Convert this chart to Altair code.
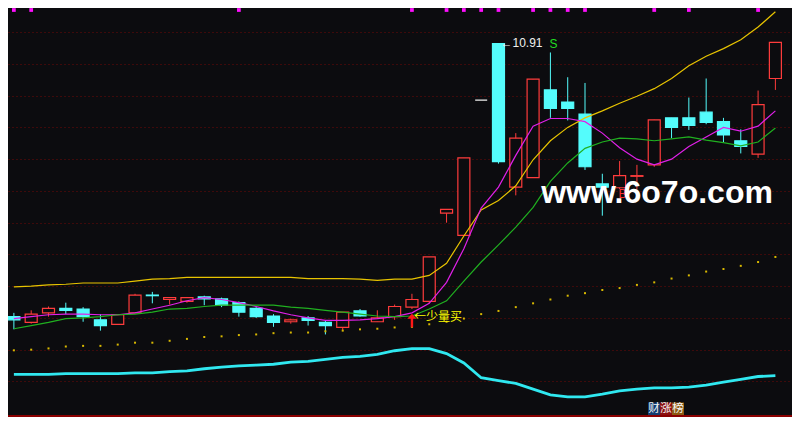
import altair as alt
import pandas as pd

BG = "#0c0c0f"
RED = "#ff3c3c"
CYAN = "#54fcfc"
WHITE = "#f0f0f0"

# daily candles (yuan)
opens = [6.61, 6.52, 6.67, 6.74, 6.73, 6.56, 6.49, 6.67, 6.95, 6.88,
         6.85, 6.92, 6.89, 6.83, 6.74, 6.62, 6.53, 6.59, 6.52, 6.44,
         6.70, 6.53, 6.61, 6.76, 6.85, 8.24, 7.89, 10.02, 10.91, 8.65,
         8.80, 10.18, 9.99, 9.80, 8.70, 8.64, 8.82, 9.00, 9.74, 9.74,
         9.83, 9.68, 9.38, 9.17, 10.36]
highs = [6.67, 6.71, 6.77, 6.83, 6.76, 6.65, 6.64, 6.97, 7.00, 6.91,
         6.92, 6.94, 6.91, 6.85, 6.76, 6.65, 6.58, 6.62, 6.55, 6.68,
         6.73, 6.71, 6.80, 6.97, 7.55, 8.30, 9.11, 10.02, 10.91, 9.50,
         10.35, 10.77, 10.38, 10.29, 8.86, 9.06, 9.00, 9.71, 9.74, 10.06,
         10.36, 9.74, 9.56, 10.17, 10.93]
lows = [6.41, 6.50, 6.61, 6.65, 6.53, 6.39, 6.49, 6.67, 6.82, 6.80,
        6.83, 6.79, 6.76, 6.61, 6.59, 6.45, 6.50, 6.47, 6.33, 6.39,
        6.61, 6.53, 6.56, 6.73, 6.82, 8.09, 7.89, 10.02, 9.02, 8.52,
        8.80, 9.74, 9.70, 8.92, 8.20, 8.62, 8.62, 8.97, 9.42, 9.55,
        9.64, 9.36, 9.18, 9.11, 10.18]
closes = [6.56, 6.65, 6.74, 6.71, 6.61, 6.47, 6.64, 6.95, 6.94, 6.91,
          6.91, 6.89, 6.79, 6.68, 6.61, 6.52, 6.56, 6.55, 6.47, 6.68,
          6.62, 6.59, 6.77, 6.88, 7.55, 8.30, 9.11, 10.02, 9.05, 9.42,
          10.35, 9.89, 9.89, 8.97, 8.65, 8.83, 8.83, 9.71, 9.59, 9.62,
          9.67, 9.47, 9.29, 9.95, 10.93]

# overlay lines
ma_fast = [6.58, 6.61, 6.64, 6.65, 6.65, 6.64, 6.64, 6.67, 6.73, 6.79,
           6.86, 6.91, 6.88, 6.83, 6.77, 6.70, 6.64, 6.59, 6.55, 6.55,
           6.56, 6.58, 6.61, 6.67, 6.82, 7.15, 7.68, 8.32, 8.65, 9.15,
           9.61, 9.73, 9.73, 9.68, 9.50, 9.27, 9.09, 9.00, 9.09, 9.29,
           9.44, 9.59, 9.53, 9.61, 9.85]
ma_slow = [6.42, 6.47, 6.52, 6.58, 6.59, 6.61, 6.64, 6.65, 6.68, 6.73,
           6.74, 6.77, 6.79, 6.79, 6.79, 6.79, 6.76, 6.74, 6.71, 6.68,
           6.65, 6.62, 6.61, 6.62, 6.73, 6.86, 7.17, 7.47, 7.74, 8.02,
           8.33, 8.74, 9.03, 9.26, 9.36, 9.42, 9.41, 9.38, 9.41, 9.44,
           9.39, 9.35, 9.30, 9.36, 9.58]
band_upper = [7.08, 7.09, 7.11, 7.12, 7.14, 7.14, 7.14, 7.17, 7.20, 7.21,
              7.23, 7.23, 7.23, 7.23, 7.23, 7.23, 7.23, 7.21, 7.21, 7.21,
              7.20, 7.18, 7.20, 7.20, 7.26, 7.45, 7.88, 8.29, 8.44, 8.67,
              9.08, 9.38, 9.59, 9.74, 9.85, 9.97, 10.08, 10.20, 10.36, 10.56,
              10.71, 10.83, 10.97, 11.17, 11.41]
band_dots = [6.08, 6.09, 6.11, 6.14, 6.15, 6.15, 6.17, 6.20, 6.20, 6.23,
             6.26, 6.29, 6.30, 6.32, 6.33, 6.35, 6.36, 6.36, 6.38, 6.39,
             6.41, 6.42, 6.44, 6.45, 6.49, 6.53, 6.58, 6.65, 6.70, 6.76,
             6.82, 6.88, 6.94, 6.98, 7.03, 7.06, 7.11, 7.15, 7.21, 7.26,
             7.32, 7.36, 7.41, 7.47, 7.55]
# lower indicator (own scale 0-100)
osc = [10.4, 10.4, 10.4, 10.6, 10.6, 10.6, 10.6, 10.8, 10.8, 11.1,
       11.3, 11.8, 12.2, 12.5, 12.7, 12.9, 13.4, 13.6, 14.1, 14.6,
       14.8, 15.3, 16.2, 16.7, 16.7, 15.5, 13.2, 9.6, 8.9, 8.2,
       6.8, 5.4, 4.9, 4.9, 5.6, 6.4, 6.8, 7.1, 7.1, 7.3,
       7.8, 8.5, 9.2, 9.9, 10.1]
top_flags = [1, 1, 0, 0, 0, 0, 0, 0, 0, 0,
             0, 0, 0, 1, 0, 0, 0, 0, 0, 0,
             0, 0, 0, 1, 0, 1, 1, 1, 1, 0,
             1, 1, 1, 1, 0, 0, 0, 1, 0, 1,
             0, 0, 0, 1, 0]
grid_prices = [5.59, 6.09, 6.59, 7.09, 7.59, 8.09, 8.59, 9.09, 9.59, 10.09, 10.59, 11.09]

hi_idx = 28
s_idx = 31
b_idx = 35
buy_idx, buy_price = 23, 6.55

df = pd.DataFrame({
    "idx": range(len(opens)), "open": opens, "high": highs, "low": lows, "close": closes,
    "ma_fast": ma_fast, "ma_slow": ma_slow, "upper": band_upper, "dots": band_dots,
    "osc": osc, "flag": top_flags,
})
df["dir"] = "flat"
df.loc[df["close"] > df["open"], "dir"] = "up"
df.loc[df["close"] < df["open"], "dir"] = "down"

xs = alt.Scale(domain=[-0.34, 44.96], nice=False, zero=False, padding=0)
ys = alt.Scale(domain=[5.03, 11.47], nice=False, zero=False, padding=0)
osc_scale = alt.Scale(domain=[0, 100], nice=False, zero=False, padding=0)
dirs = ["up", "down", "flat"]
stroke_scale = alt.Scale(domain=dirs, range=[RED, CYAN, WHITE])
fill_scale = alt.Scale(domain=dirs, range=[BG, CYAN, WHITE])

grid_axis = alt.Axis(values=grid_prices, grid=True, gridColor="#700808", gridDash=[1, 3],
                     labels=False, ticks=False, domain=False, title=None)

base = alt.Chart(df).encode(x=alt.X("idx:Q", scale=xs, axis=None))

wicks = base.mark_rule(strokeWidth=1).encode(
    y=alt.Y("low:Q", scale=ys, axis=grid_axis), y2="high:Q",
    stroke=alt.Stroke("dir:N", scale=stroke_scale, legend=None),
)
bodies = base.mark_bar(size=12, strokeWidth=1.2).encode(
    y=alt.Y("open:Q", scale=ys, axis=None), y2="close:Q",
    fill=alt.Fill("dir:N", scale=fill_scale, legend=None),
    stroke=alt.Stroke("dir:N", scale=stroke_scale, legend=None),
)
dots = base.mark_square(size=4, color="#d8b800", opacity=1).encode(
    y=alt.Y("dots:Q", scale=ys, axis=None))
upper = base.mark_line(color="#e8c400", strokeWidth=1.2).encode(
    y=alt.Y("upper:Q", scale=ys, axis=None))
fast = base.mark_line(color="#e020e8", strokeWidth=1.2).encode(
    y=alt.Y("ma_fast:Q", scale=ys, axis=None))
slow = base.mark_line(color="#20b020", strokeWidth=1.2).encode(
    y=alt.Y("ma_slow:Q", scale=ys, axis=None))
osc_line = base.mark_line(color="#30e8f0", strokeWidth=2.8).encode(
    y=alt.Y("osc:Q", scale=osc_scale, axis=None))
flags = base.mark_square(size=14, color="#ff10ff", opacity=1).encode(
    y=alt.value(2)).transform_filter("datum.flag == 1")

ann = pd.DataFrame({"idx": [buy_idx], "p": [buy_price]})
arrow = alt.Chart(ann).mark_point(
    shape="M0,-1L0.7,-0.25L0.18,-0.25L0.18,1L-0.18,1L-0.18,-0.25L-0.7,-0.25Z",
    size=180, filled=True, color="#ff1818", opacity=1,
).encode(x=alt.X("idx:Q", scale=xs, axis=None), y=alt.Y("p:Q", scale=ys, axis=None))
buy_text = alt.Chart(ann).mark_text(
    text="←少量买", align="left", baseline="middle", dx=2, dy=-3,
    font="Noto Sans CJK SC", fontSize=12, color="#ffff00",
).encode(x=alt.X("idx:Q", scale=xs, axis=None), y=alt.Y("p:Q", scale=ys, axis=None))

hi_df = pd.DataFrame({"idx": [hi_idx], "p": [highs[hi_idx]], "t": ["←%.2f" % highs[hi_idx]]})
hi_text = alt.Chart(hi_df).mark_text(
    align="left", baseline="middle", dx=2, dy=-1,
    font="Liberation Sans", fontSize=12, color=WHITE,
).encode(x=alt.X("idx:Q", scale=xs, axis=None), y=alt.Y("p:Q", scale=ys, axis=None), text="t:N")

s_df = pd.DataFrame({"idx": [s_idx], "p": [highs[s_idx]]})
s_text = alt.Chart(s_df).mark_text(
    text="S", align="center", baseline="bottom", dx=3, dy=-1,
    font="Liberation Sans", fontSize=12, color="#22dd22",
).encode(x=alt.X("idx:Q", scale=xs, axis=None), y=alt.Y("p:Q", scale=ys, axis=None))

b_df = pd.DataFrame({"idx": [b_idx], "p": [lows[b_idx]]})
b_text = alt.Chart(b_df).mark_text(
    text="B", align="center", baseline="top", dx=3, dy=0,
    font="Liberation Sans", fontSize=12, color="#ff3030",
).encode(x=alt.X("idx:Q", scale=xs, axis=None), y=alt.Y("p:Q", scale=ys, axis=None))

one = pd.DataFrame({"k": [0]})
watermark = alt.Chart(one).mark_text(
    text="www.6o7o.com", align="center", baseline="alphabetic",
    font="Liberation Sans", fontWeight="bold", fontSize=32, color="#ffffff",
).encode(x=alt.value(649), y=alt.value(194.5))

badge = []
for i, (ch, col) in enumerate(zip(["财", "涨", "榜"], ["#123c70", "#8c1010", "#8c5a10"])):
    x0 = 640 + i * 12
    badge.append(alt.Chart(one).mark_rect(color=col).encode(
        x=alt.value(x0), x2=alt.value(x0 + 12), y=alt.value(394.5), y2=alt.value(407)))
    badge.append(alt.Chart(one).mark_text(
        text=ch, align="center", baseline="middle", font="Noto Sans CJK SC",
        fontSize=11.5, color="#f4f4f4").encode(x=alt.value(x0 + 6), y=alt.value(401)))

bottom = alt.Chart(one).mark_rule(color="#8a0000", strokeWidth=2).encode(
    x=alt.value(0), x2=alt.value(784), y=alt.value(408))

chart = alt.layer(
    wicks, bodies, dots, upper, fast, slow, osc_line, flags,
    arrow, buy_text, hi_text, s_text, b_text, watermark, *badge, bottom,
).resolve_scale(y="independent").properties(
    width=784, height=409, background=BG, padding=0,
    autosize=alt.AutoSizeParams(type="none"),
).configure_view(strokeWidth=0)

chart.save("out.html", embed_options={"renderer": "svg", "actions": False})
